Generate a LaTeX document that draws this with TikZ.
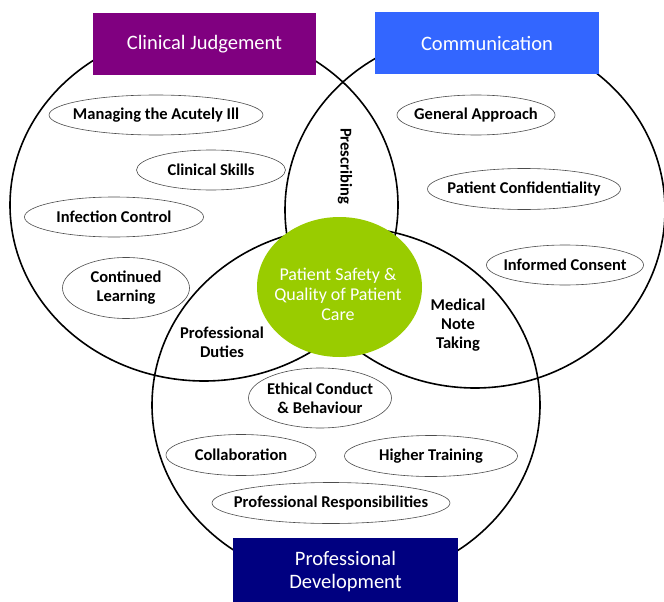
\documentclass[tikz,border=0pt]{standalone}
\usepackage{fontspec}
\setmainfont{Carlito}
\usetikzlibrary{shapes.geometric}

\definecolor{cjpurple}{RGB}{128,0,128}
\definecolor{commblue}{RGB}{51,102,255}
\definecolor{pdnavy}{RGB}{0,0,128}
\definecolor{safegreen}{RGB}{153,204,0}

\begin{document}
\begin{tikzpicture}[x=1pt, y=-1pt,
    ring/.style={draw=black, line width=1.6pt},
    headbox/.style={rectangle, text=white, inner sep=0pt, align=center,
        font=\fontsize{20.5}{23}\selectfont},
    topic/.style 2 args={ellipse, draw=black!70, line width=0.6pt, fill=white,
        minimum width=#1, minimum height=#2, inner xsep=-50pt, inner ysep=-6pt,
        align=center, font=\bfseries\fontsize{16.5}{19}\selectfont},
    overlap/.style={align=center, font=\bfseries\fontsize{16.5}{19}\selectfont}]
    \useasboundingbox (0,0) rectangle (664,602);

    % Draw the three domain circles
    \draw[ring] (204,205) ellipse [x radius=194, y radius=176];
    \draw[ring] (475,210) ellipse [x radius=190, y radius=178];
    \draw[ring] (346,405) ellipse [x radius=194, y radius=178];

    % Draw the centre
    \node[ellipse, fill=safegreen, minimum width=165pt, minimum height=140pt,
        inner sep=0pt] (safety) at (339.5,287) {};
    \node[text=white, align=center, font=\fontsize{18}{20}\selectfont]
        (safetytext) at (338,294) {Patient Safety \&\\Quality of Patient\\Care};

    % Draw the domain titles
    \node[headbox, fill=cjpurple, minimum width=223pt, minimum height=62pt] (judgement) at (204.5,44.5) {Clinical Judgement};
    \node[headbox, fill=commblue, minimum width=224pt, minimum height=62pt] (communication) at (487,43.5) {Communication};
    \node[headbox, fill=pdnavy, minimum width=225pt, minimum height=69pt] (development) at (345.5,572) {Professional\\Development};

    % Draw topics for clinical judgement
    \node[topic={214pt}{40pt}] (acute) at (156,115) {Managing the Acutely Ill};
    \node[topic={149pt}{40pt}] (skills) at (211,170) {Clinical Skills};
    \node[topic={179pt}{40pt}] (infection) at (114,217) {Infection Control};
    \node[topic={127pt}{61pt}] (learning) at (126,288) {Continued\\Learning};

    % Draw topics for communication
    \node[topic={158pt}{40pt}] (approach) at (476,115) {General Approach};
    \node[topic={193pt}{41pt}] (confidentiality) at (524,189) {Patient Confidentiality};
    \node[topic={157pt}{40pt}] (consent) at (565,265) {Informed Consent};

    % Draw topics for professional development
    \node[topic={143pt}{60pt}] (ethics) at (320,398) {Ethical Conduct\\\& Behaviour};
    \node[topic={150pt}{41pt}] (collaboration) at (241,455) {Collaboration};
    \node[topic={173pt}{41pt}] (training) at (431,456) {Higher Training};
    \node[topic={238pt}{41pt}] (responsibilities) at (331,503) {Professional Responsibilities};

    % Draw labels for the overlaps
    \node[overlap, rotate=-90] (prescribing) at (345,166) {Prescribing};
    \node[overlap] (duties) at (222,342) {Professional\\Duties};
    \node[overlap] (notetaking) at (458,325) {Medical\\Note\\Taking};
\end{tikzpicture}
\end{document}
